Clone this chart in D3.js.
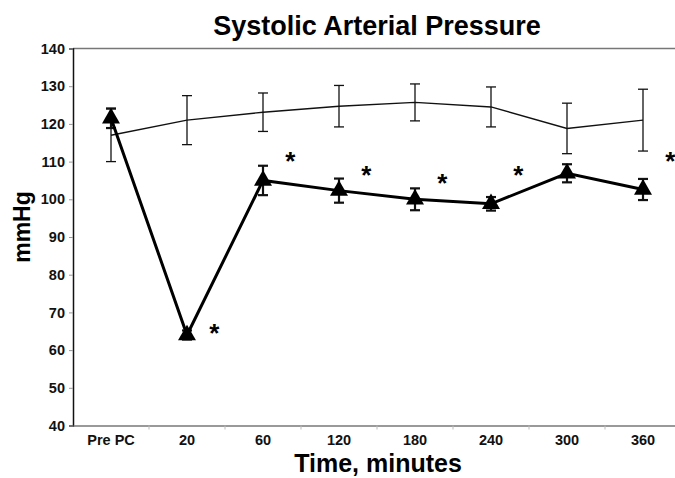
<!DOCTYPE html>
<html>
<head>
<meta charset="utf-8">
<script src="https://cdn.jsdelivr.net/npm/d3@7"></script>
<style>
  body { margin: 0; background: #fff; }
  svg { display: block; font-family: "Liberation Sans", Arial, sans-serif; }
</style>
</head>
<body>
<svg id="chart" width="675" height="478"></svg>
<script>
// time points
const categories = ["Pre PC", "20", "60", "120", "180", "240", "300", "360"];

// control group (thin line)
const controlMean = [117, 121, 123.1, 124.7, 125.7, 124.5, 118.8, 121];
const controlErr  = [7, 6.5, 5.1, 5.5, 4.9, 5.3, 6.7, 8.2];

// treated group (thick line, triangles)
const treatedMean = [121.5, 64, 105, 102.3, 100, 98.8, 106.9, 102.6];
const treatedErr  = [2.6, 1.2, 3.9, 3.2, 2.9, 1.8, 2.4, 2.8];

// significance markers: time point and level (mmHg) of the asterisk
const starCats   = ["20", "60", "120", "180", "240", "360"];
const starLevels = [65.4, 111, 107.2, 105.1, 107.2, 111];

const yTicks = [40, 50, 60, 70, 80, 90, 100, 110, 120, 130, 140];

const svg = d3.select("#chart");
const plotLeft = 73, plotTop = 48.5, plotBottom = 425.5;

const x = d3.scaleBand().domain(categories).range([plotLeft, plotLeft + 8 * 76]);
const y = d3.scaleLinear().domain([40, 140]).range([plotBottom, plotTop]);
const cx = c => x(c) + x.bandwidth() / 2;

// title
svg.append("text")
  .attr("x", 377).attr("y", 35)
  .attr("text-anchor", "middle")
  .attr("font-size", 27).attr("font-weight", "bold")
  .text("Systolic Arterial Pressure");

// top frame line
svg.append("line")
  .attr("x1", plotLeft).attr("x2", 675)
  .attr("y1", plotTop).attr("y2", plotTop)
  .attr("stroke", "#777").attr("stroke-width", 1.5);

// y axis
const yAxis = svg.append("g")
  .attr("transform", `translate(${plotLeft},0)`)
  .call(d3.axisLeft(y).tickValues(yTicks).tickSize(4).tickPadding(4));
yAxis.select(".domain").attr("stroke", "#111").attr("stroke-width", 1.5);
yAxis.selectAll(".tick line").attr("stroke", "#999");
yAxis.selectAll(".tick text")
  .attr("font-size", 14.5).attr("font-weight", "bold").attr("fill", "#111")
  .attr("font-family", "Liberation Sans, Arial, sans-serif");

// x axis
const xAxis = svg.append("g")
  .attr("transform", `translate(0,${plotBottom})`)
  .call(d3.axisBottom(x).tickSize(0).tickPadding(9));
xAxis.select(".domain").attr("stroke", "#777").attr("stroke-width", 1.5);
xAxis.selectAll(".tick text")
  .attr("font-size", 14.5).attr("font-weight", "bold").attr("fill", "#111")
  .attr("font-family", "Liberation Sans, Arial, sans-serif");

// small ticks between categories
svg.append("g").selectAll("line")
  .data(categories.slice(1))
  .join("line")
  .attr("x1", d => x(d)).attr("x2", d => x(d))
  .attr("y1", plotBottom).attr("y2", plotBottom + 4)
  .attr("stroke", "#bbb");

// axis titles
svg.append("text")
  .attr("x", 378).attr("y", 472)
  .attr("text-anchor", "middle")
  .attr("font-size", 25).attr("font-weight", "bold")
  .text("Time, minutes");

svg.append("text")
  .attr("transform", "translate(30,227) rotate(-90)")
  .attr("text-anchor", "middle")
  .attr("font-size", 23).attr("font-weight", "bold")
  .text("mmHg");

function errorBars(means, errs, width, capW) {
  const g = svg.append("g").attr("stroke", "#111").attr("stroke-width", width);
  categories.forEach((c, i) => {
    const hi = y(means[i] + errs[i]), lo = y(means[i] - errs[i]);
    g.append("line").attr("x1", cx(c)).attr("x2", cx(c)).attr("y1", hi).attr("y2", lo);
    g.append("line").attr("x1", cx(c) - capW).attr("x2", cx(c) + capW).attr("y1", hi).attr("y2", hi);
    g.append("line").attr("x1", cx(c) - capW).attr("x2", cx(c) + capW).attr("y1", lo).attr("y2", lo);
  });
}

const line = d3.line().x((d, i) => cx(categories[i])).y(d => y(d));

// control series
errorBars(controlMean, controlErr, 1.3, 5);
svg.append("path")
  .datum(controlMean)
  .attr("d", line)
  .attr("fill", "none").attr("stroke", "#111").attr("stroke-width", 1.4);

// treated series
errorBars(treatedMean, treatedErr, 2.2, 5);
svg.append("path")
  .datum(treatedMean)
  .attr("d", line)
  .attr("fill", "none").attr("stroke", "#000").attr("stroke-width", 3);

svg.append("g").selectAll("path")
  .data(treatedMean)
  .join("path")
  .attr("d", d3.symbol(d3.symbolTriangle, 140))
  .attr("transform", (d, i) => `translate(${cx(categories[i])},${y(d)})`)
  .attr("fill", "#000");

// asterisks
svg.append("g").selectAll("text")
  .data(starCats)
  .join("text")
  .attr("x", (d, i) => cx(d) + x.bandwidth() * 0.36)
  .attr("y", (d, i) => y(starLevels[i]) + 12)
  .attr("text-anchor", "middle")
  .attr("font-size", 26).attr("font-weight", "bold")
  .text("*");
</script>
</body>
</html>
